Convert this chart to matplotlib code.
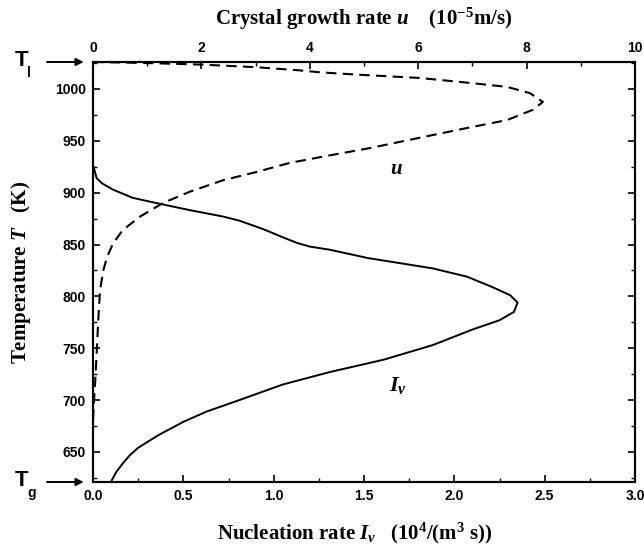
import numpy as np
import matplotlib
matplotlib.use("Agg")
import matplotlib.pyplot as plt

plt.rcParams['mathtext.fontset'] = 'custom'
plt.rcParams['mathtext.rm'] = 'Liberation Serif:bold'
plt.rcParams['mathtext.it'] = 'Liberation Serif:italic:bold'
plt.rcParams['mathtext.bf'] = 'Liberation Serif:bold'

# liquidus / glass temperatures (axis limits)
T_l = 1026
T_g = 621

# nucleation rate I_v (10^4 /(m^3 s)) vs temperature
T_nuc = [927, 914, 909, 903, 895, 890, 883, 877, 873, 865, 857, 851.5, 848,
         845, 837, 827, 819, 809, 801, 794, 785, 777, 768, 753, 739, 727, 715,
         700, 689, 679, 666, 654, 647, 640, 631, 623, 621]
I_v = [0.0, 0.02, 0.05, 0.11, 0.22, 0.35, 0.54, 0.72, 0.81, 0.94, 1.05, 1.13,
       1.20, 1.31, 1.52, 1.88, 2.07, 2.21, 2.31, 2.35, 2.33, 2.25, 2.10, 1.88,
       1.61, 1.31, 1.05, 0.81, 0.63, 0.50, 0.36, 0.25, 0.205, 0.17, 0.13,
       0.105, 0.10]

# crystal growth rate u (10^-5 m/s) vs temperature
T_gr = [1026, 1025, 1023.5, 1021, 1018, 1016, 1013.5, 1010.6, 1005.8, 1002,
        996, 987.5, 980, 970, 963, 953, 943, 936, 928.7, 920, 912, 901, 890,
        877, 864, 851, 838, 825, 806, 780, 748, 717, 700, 680]
u = [0.0, 1.0, 2.0, 3.0, 3.8, 4.2, 4.98, 6.03, 6.96, 7.64, 8.06, 8.30, 8.12,
     7.64, 6.96, 6.03, 5.11, 4.37, 3.63, 3.02, 2.40, 1.79, 1.29, 0.87, 0.55,
     0.37, 0.26, 0.19, 0.13, 0.10, 0.07, 0.04, 0.02, 0.0]

fig = plt.figure(figsize=(6.44, 5.52), dpi=100)
ax = fig.add_axes([93/644, 70/552, 542/644, 420/552])
ax2 = ax.twiny()

ax.plot(I_v, T_nuc, color='black', lw=1.4)
ax2.plot(u, T_gr, color='black', lw=1.5, linestyle=(0, (5, 3)))

ax.set_xlim(0, 3.0)
ax2.set_xlim(0, 10)
ax.set_ylim(T_g, T_l)

ax.set_xticks(np.arange(0, 3.01, 0.5))
ax.set_xticks(np.arange(0.25, 3.0, 0.5), minor=True)
ax2.set_xticks(np.arange(0, 10.1, 2))
ax2.set_xticks(np.arange(1, 10, 2), minor=True)
ax.set_yticks(np.arange(650, 1001, 50))
ax.set_yticks(np.arange(625, 1026, 50), minor=True)

tick_font = dict(family='Liberation Sans', weight='bold', size=10)
for a in (ax, ax2):
    a.tick_params(which='major', direction='in', length=5, width=1.2, pad=5)
    a.tick_params(which='minor', direction='in', length=3, width=1.0)
    for sp in a.spines.values():
        sp.set_linewidth(1.5)
ax.tick_params(which='both', right=True)
ax.set_xticklabels([f"{v:.1f}" for v in np.arange(0, 3.01, 0.5)], **tick_font)
ax.set_yticklabels([str(v) for v in range(650, 1001, 50)], **tick_font)
ax2.set_xticklabels([str(v) for v in range(0, 11, 2)], **tick_font)

label_font = dict(family='Liberation Serif', weight='bold', size=15)
ax.set_xlabel(r"Nucleation rate $I_v$   $(10^4/(\mathrm{m}^3\ \mathrm{s}))$",
              labelpad=13, **label_font)
ax.xaxis.label.set_x(0.484)
ax2.set_xlabel(r"Crystal growth rate $u$    $(10^{-5}\mathrm{m/s})$",
               labelpad=12, **label_font)
ax.set_ylabel(r"Temperature $T$   (K)", labelpad=16, **label_font)

ax2.text(5.6, 924, r"$u$", fontsize=15, ha='center', va='center')
ax.text(1.69, 714, r"$I_v$", fontsize=16, ha='center', va='center')

# T_l and T_g markers outside the axis
for lbl, Tv in (("l", T_l), ("g", T_g)):
    ax.annotate("", xy=(-0.012, Tv), xycoords=('axes fraction', 'data'),
                xytext=(-0.09, Tv), textcoords=('axes fraction', 'data'),
                arrowprops=dict(arrowstyle='-|>', color='black', lw=1.4,
                                mutation_scale=11),
                annotation_clip=False)
    ax.text(-0.145, Tv + 1, "T", transform=ax.get_yaxis_transform(),
            family='Liberation Sans', weight='bold', fontsize=16,
            ha='left', va='center', clip_on=False)
    ax.text(-0.122, Tv - 11, lbl, transform=ax.get_yaxis_transform(),
            family='Liberation Sans', weight='bold', fontsize=10,
            ha='left', va='center', clip_on=False)

fig.savefig("out.png", dpi=100)
